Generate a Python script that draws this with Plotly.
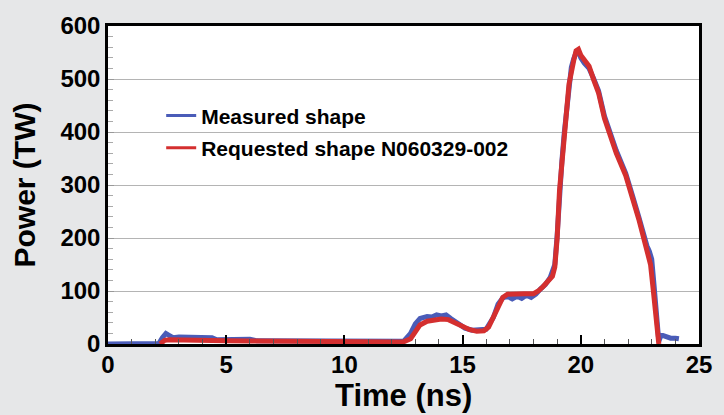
import plotly.graph_objects as go

# Requested pulse shape (red)
req_t = [2.2, 2.4, 2.6, 3.0, 4.0, 5.0, 6.0, 7.0, 8.0, 9.0, 10.0, 11.0, 12.0, 12.5,
         12.8, 13.0, 13.2, 13.5, 13.8, 14.1, 14.4, 14.7, 15.0, 15.3, 15.6, 15.9,
         16.1, 16.3, 16.5, 16.7, 16.9, 17.2, 17.6, 18.0, 18.2, 18.4, 18.6, 18.8,
         18.9, 19.0, 19.1, 19.2, 19.3, 19.4, 19.5, 19.6, 19.7, 19.8, 19.9, 20.0,
         20.15, 20.35, 20.55, 20.75, 21.0, 21.2, 21.5, 21.9, 22.0, 22.2, 22.45,
         22.65, 22.8, 22.95, 23.07, 23.15, 23.22, 23.3]
req_p = [0, 7, 8, 8, 7, 6, 5.5, 5, 5, 4.5, 4, 4, 4, 4,
         10, 25, 36, 43, 46, 47, 46, 40, 32, 27, 24, 25,
         32, 50, 72, 88, 94, 95, 95, 95, 100, 108, 117, 128,
         145, 200, 290, 350, 395, 440, 490, 520, 535, 553, 556, 545,
         537, 524, 498, 474, 426, 400, 360, 318, 300, 273, 236,
         200, 175, 150, 100, 58, 25, 0]

# Measured pulse shape (blue)
meas_t = [0.0, 0.5, 1.0, 1.5, 2.0, 2.15, 2.3, 2.45, 2.6, 2.75, 3.0, 3.5, 4.0, 4.4,
          4.6, 5.0, 5.5, 6.0, 6.3, 7.0, 8.0, 9.0, 10.0, 11.0, 12.0, 12.5,
          12.8, 13.0, 13.2, 13.5, 13.7, 13.9, 14.1, 14.3, 14.5, 14.8, 15.1, 15.4,
          15.7, 16.0, 16.3, 16.5, 16.7, 16.9, 17.1, 17.3, 17.5, 17.7, 17.9, 18.1,
          18.3, 18.5, 18.7, 18.9, 19.0, 19.1, 19.2, 19.3, 19.4, 19.5, 19.6, 19.7,
          19.8, 19.9, 20.0, 20.15, 20.35, 20.55, 20.75, 21.0, 21.2, 21.5, 21.9,
          22.0, 22.2, 22.45, 22.65, 22.8, 22.9, 23.0, 23.1, 23.2, 23.3, 23.4,
          23.6, 23.8, 24.0, 24.15]
meas_p = [0, 0, 0, 0, 0, 1, 12, 20, 16, 12, 13, 13, 12, 12,
          8, 8, 10, 9, 6, 6, 5, 4, 4, 4, 5, 5,
          20, 38, 48, 52, 51, 55, 53, 55, 48, 40, 30, 26,
          26, 28, 50, 75, 87, 90, 85, 90, 86, 92, 88, 94,
          104, 112, 125, 150, 205, 285, 345, 398, 445, 492, 522, 538,
          550, 552, 540, 530, 520, 500, 478, 430, 403, 365, 322,
          305, 278, 240, 205, 185, 175, 160, 110, 40, 5, 17,
          14, 11, 11, 10]

series_names = ["Measured shape", "Requested shape N060329-002"]
series_colors = ["#4a5cb8", "#d42f2f"]
x_title = "Time (ns)"
y_title = "Power (TW)"

fig = go.Figure()
fig.add_trace(go.Scatter(x=meas_t, y=meas_p, mode="lines", showlegend=False,
                         line=dict(color=series_colors[0], width=5)))
fig.add_trace(go.Scatter(x=req_t, y=req_p, mode="lines", showlegend=False,
                         line=dict(color=series_colors[1], width=5)))
# legend entries with thinner line samples
for i, (nm, col) in enumerate(zip(series_names, series_colors)):
    fig.add_trace(go.Scatter(x=[None], y=[None], mode="lines", name=nm,
                             legendgroup=str(i), line=dict(color=col, width=3)))

font_fam = "Liberation Sans, Arial, sans-serif"
fig.update_layout(
    width=724, height=415,
    margin=dict(l=108, r=18, t=21, b=71),
    paper_bgcolor="#e6e7e8", plot_bgcolor="white",
    font=dict(family=font_fam, color="black"),
    showlegend=True,
    legend=dict(x=0.09, y=0.782, xanchor="left", yanchor="top",
                bgcolor="rgba(0,0,0,0)", tracegroupgap=2,
                font=dict(size=21, weight="bold", family=font_fam)),
    xaxis=dict(range=[0, 25], dtick=5, ticks="inside", ticklen=9, tickwidth=1.5,
               tickcolor="black", showline=True, linewidth=2.5, linecolor="black",
               mirror=True, showgrid=False, zeroline=False, ticklabelstandoff=-3,
               minor=dict(dtick=1, ticks="inside", ticklen=5, tickcolor="#555", tickwidth=1),
               tickfont=dict(size=24, weight="bold")),
    yaxis=dict(range=[0, 600], dtick=100, ticks="inside", ticklen=6, tickwidth=1,
               tickcolor="#999", showline=True, linewidth=2.5, linecolor="black",
               mirror=True, showgrid=True, gridcolor="#b4b4b4", gridwidth=1, zeroline=False,
               minor=dict(dtick=20, ticks="inside", ticklen=5, tickcolor="#aaa", tickwidth=1),
               tickfont=dict(size=24, weight="bold"),
               title=dict(text=y_title, font=dict(size=30, weight="bold"), standoff=16)),
)
fig.add_annotation(text=x_title, xref="paper", yref="paper", x=0.5, y=-0.161,
                   xanchor="center", yanchor="middle", showarrow=False,
                   font=dict(size=31, weight="bold", family=font_fam))

fig.write_html("out.html")
